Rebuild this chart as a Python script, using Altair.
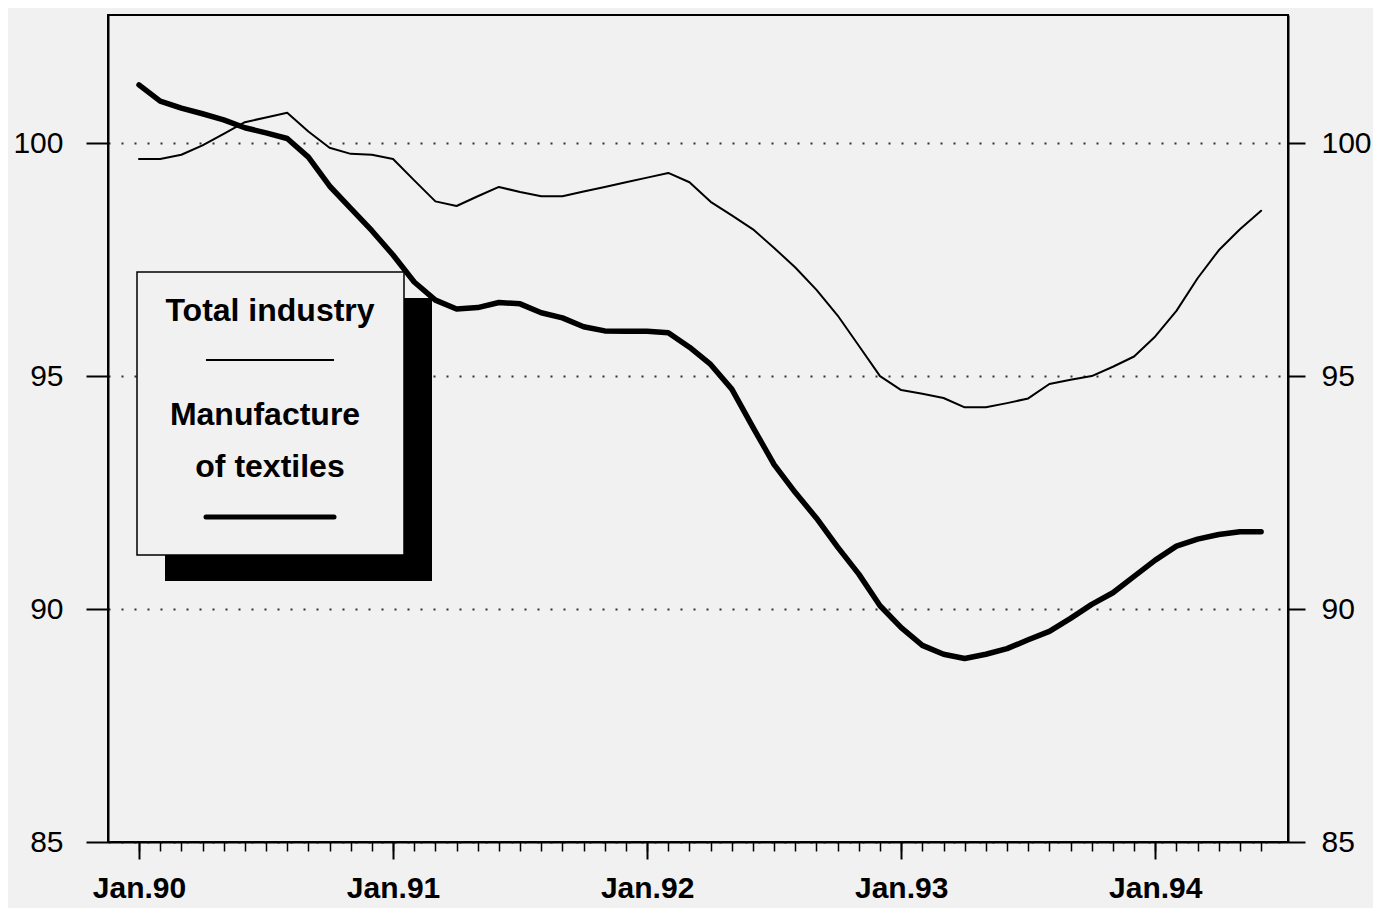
import altair as alt
import pandas as pd

# ---- data (monthly, Jan.90 = month 0 ... Jun.94 = month 53)
months = list(range(54))
total_industry = [99.66, 99.66, 99.75, 99.95, 100.2, 100.45, 100.55, 100.65, 100.25, 99.9,
                  99.77, 99.75, 99.66, 99.2, 98.75, 98.65, 98.86, 99.06, 98.95, 98.86,
                  98.86, 98.96, 99.06, 99.16, 99.26, 99.36, 99.16, 98.74, 98.45, 98.15,
                  97.75, 97.33, 96.85, 96.3, 95.65, 95.0, 94.7, 94.62, 94.53, 94.33,
                  94.33, 94.42, 94.52, 94.83, 94.92, 95.0, 95.2, 95.42, 95.85, 96.4,
                  97.1, 97.7, 98.15, 98.55]
textiles = [101.25, 100.9, 100.75, 100.63, 100.5, 100.33, 100.22, 100.1, 99.7, 99.08,
            98.6, 98.12, 97.6, 97.02, 96.63, 96.44, 96.47, 96.58, 96.55, 96.36,
            96.25, 96.06, 95.97, 95.96, 95.96, 95.93, 95.62, 95.25, 94.72, 93.9,
            93.1, 92.5, 91.95, 91.33, 90.75, 90.07, 89.6, 89.22, 89.03, 88.94,
            89.03, 89.15, 89.34, 89.52, 89.8, 90.1, 90.35, 90.7, 91.05, 91.35,
            91.5, 91.6, 91.66, 91.66]
series_names = ["Total industry", "Manufacture of textiles"]
year_labels = ["Jan.90", "Jan.91", "Jan.92", "Jan.93", "Jan.94"]
year_positions = [0, 12, 24, 36, 48]
y_ticks = [85, 90, 95, 100]

df = pd.DataFrame({
    "month": months + months,
    "value": total_industry + textiles,
    "series": [series_names[0]] * len(months) + [series_names[1]] * len(months),
})

FONT = "Liberation Sans, Arial, sans-serif"
BG = "#f1f1f1"

x_scale = alt.Scale(domain=[-1.464, 54.27], nice=False, zero=False)
y_scale = alt.Scale(domain=[85, 102.75], nice=False, zero=False)

label_expr = str(year_labels) + "[round(datum.value / 12)]"

lines = alt.Chart(df).mark_line(color="black", strokeJoin="round", strokeCap="round").encode(
    x=alt.X("month:Q", scale=x_scale, title=None,
            axis=alt.Axis(orient="bottom", values=year_positions, labelExpr=label_expr,
                          tickSize=17, tickWidth=2, tickColor="black",
                          domainColor="black", domainWidth=2,
                          labelFont=FONT, labelFontSize=30, labelFontWeight="bold",
                          labelColor="black", labelPadding=14, grid=False)),
    y=alt.Y("value:Q", scale=y_scale, title=None,
            axis=alt.Axis(orient="left", values=y_ticks, tickSize=22, tickWidth=2,
                          tickColor="black", domainColor="black", domainWidth=2,
                          labelFont=FONT, labelFontSize=30, labelColor="black",
                          labelPadding=23, grid=True, gridColor="#333333",
                          gridDash=[2, 11], gridWidth=2)),
    strokeWidth=alt.StrokeWidth("series:N",
                                scale=alt.Scale(domain=series_names, range=[2, 5.5]),
                                legend=None),
    detail="series:N",
)

minor = alt.Chart(df).mark_line(opacity=0).encode(
    x=alt.X("month:Q", scale=x_scale, title=None,
            axis=alt.Axis(orient="bottom", values=months, labels=False, tickSize=9,
                          tickWidth=1.5, tickColor="black", domain=False, grid=False)),
    y=alt.Y("value:Q", scale=y_scale, title=None,
            axis=alt.Axis(orient="right", values=y_ticks, tickSize=17, tickWidth=2,
                          tickColor="black", domainColor="black", domainWidth=2,
                          labelFont=FONT, labelFontSize=30, labelColor="black",
                          labelPadding=16, grid=False)),
    detail="series:N",
)

one = alt.Data(values=[{"k": 0}])

shadow = alt.Chart(one).mark_rect(color="black").encode(
    x=alt.value(57), x2=alt.value(324), y=alt.value(283), y2=alt.value(566))
box = alt.Chart(one).mark_rect(fill=BG, stroke="black", strokeWidth=1.5).encode(
    x=alt.value(29), x2=alt.value(296), y=alt.value(257), y2=alt.value(540))

legend_lines = [series_names[0], "Manufacture", "of textiles"]

def legend_text(txt, x, y):
    return alt.Chart(one).mark_text(text=txt, font=FONT, fontSize=32, fontWeight="bold",
                                    color="black", align="center", baseline="middle").encode(
        x=alt.value(x), y=alt.value(y))

t1 = legend_text(legend_lines[0], 162, 296)
t2 = legend_text(legend_lines[1], 157, 400)
t3 = legend_text(legend_lines[2], 162, 452)
s1 = alt.Chart(one).mark_rule(color="black", strokeWidth=2).encode(
    x=alt.value(98), x2=alt.value(226), y=alt.value(345))
s2 = alt.Chart(one).mark_rule(color="black", strokeWidth=5, strokeCap="round").encode(
    x=alt.value(98), x2=alt.value(226), y=alt.value(502))

chart = alt.layer(minor, lines, shadow, box, t1, t2, t3, s1, s2).resolve_axis(
    x="independent", y="independent"
).properties(
    width=1180, height=827,
    background=BG,
    padding={"left": 100, "top": 7, "right": 85, "bottom": 66},
    autosize=alt.AutoSizeParams(type="none"),
).configure_view(stroke="black", strokeWidth=2, fill=BG)

chart.save("out.html", embed_options={"renderer": "svg", "actions": False})
